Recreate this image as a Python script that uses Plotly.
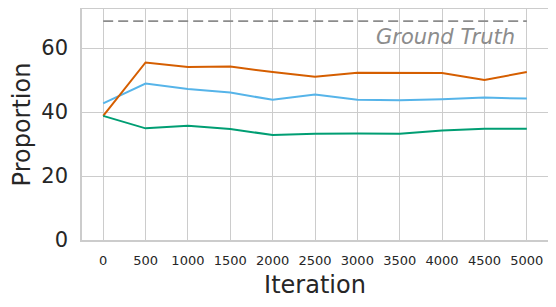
import plotly.graph_objects as go

iterations = [0, 500, 1000, 1500, 2000, 2500, 3000, 3500, 4000, 4500, 5000]
orange_vals = [38.8, 55.5, 54.1, 54.2, 52.5, 51.0, 52.3, 52.2, 52.2, 50.0, 52.5]
blue_vals = [42.7, 48.9, 47.2, 46.1, 43.8, 45.5, 43.8, 43.7, 44.0, 44.5, 44.2]
green_vals = [38.8, 34.9, 35.7, 34.7, 32.8, 33.2, 33.3, 33.2, 34.2, 34.8, 34.8]
ground_truth = 68.4
gt_label = "Ground Truth"
x_ticks = [0, 500, 1000, 1500, 2000, 2500, 3000, 3500, 4000, 4500, 5000]
y_ticks = [0, 20, 40, 60]

fig = go.Figure()
fig.add_trace(go.Scatter(x=[iterations[0], iterations[-1]], y=[ground_truth, ground_truth],
                         mode="lines", line=dict(color="#8c8c8c", width=1.8, dash="10px,5px"),
                         showlegend=False, hoverinfo="skip"))
for vals, col in [(blue_vals, "#56B4E9"), (orange_vals, "#D55E00"), (green_vals, "#009E73")]:
    fig.add_trace(go.Scatter(x=iterations, y=vals, mode="lines",
                             line=dict(color=col, width=2), showlegend=False))

fig.add_annotation(x=iterations[-1], y=ground_truth, xref="x", yref="y",
                   text="<i>" + gt_label + "</i>", showarrow=False,
                   xanchor="right", yanchor="top", yshift=-2, xshift=-10,
                   font=dict(family="DejaVu Sans", size=21, color="#8c8c8c"))

# page body has an 8px default margin; compensate so the plot sits where the reference does
fig.update_layout(
    width=548, height=299,
    margin=dict(l=74, r=8, t=1, b=67),
    paper_bgcolor="white", plot_bgcolor="white",
    font=dict(family="DejaVu Sans", color="#262626"),
)
fig.update_xaxes(range=[-250, 5250], tickvals=x_ticks, ticktext=[str(t) for t in x_ticks],
                 tickfont=dict(size=13), showgrid=True, gridcolor="#cccccc", gridwidth=1,
                 zeroline=False, showline=True, linecolor="#cccccc", linewidth=1.5, mirror=True,
                 ticks="", automargin=False, ticklabelstandoff=8,
                 title=dict(text="Iteration", font=dict(size=24), standoff=9))
fig.update_yaxes(range=[0, 72.2], tickvals=y_ticks, tickfont=dict(size=21),
                 showgrid=True, gridcolor="#cccccc", gridwidth=1,
                 zeroline=False, showline=True, linecolor="#cccccc", linewidth=1.5, mirror=True,
                 ticks="", automargin=False, ticklabelstandoff=8,
                 title=dict(text="Proportion", font=dict(size=24), standoff=4))

fig.write_html("out.html")
